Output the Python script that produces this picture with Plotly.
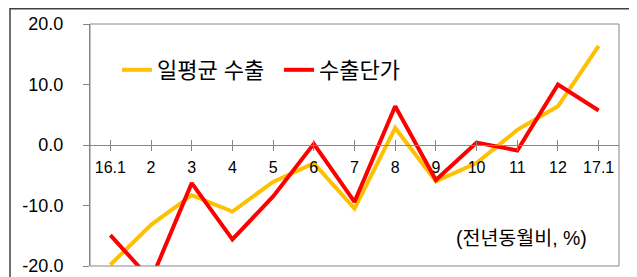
import plotly.graph_objects as go

categories = ["16.1", "2", "3", "4", "5", "6", "7", "8", "9", "10", "11", "12", "17.1"]
daily_avg_exports = [-19.8, -13.2, -8.3, -11.0, -6.1, -3.0, -10.5, 2.8, -6.0, -3.0, 2.5, 6.4, 16.4]
export_unit_price = [-14.9, -22.3, -6.3, -15.6, -8.5, 0.2, -9.4, 6.4, -5.8, 0.4, -0.9, 10.0, 5.7]
series_names = ["일평균 수출", "수출단가"]
y_ticks = [-20, -10, 0, 10, 20]
y_ticklabels = ["-20.0", "-10.0", "0.0", "10.0", "20.0"]
unit_note = "(전년동월비, %)"

FONT = "Liberation Sans, Noto Sans CJK KR, sans-serif"
OFF = 8  # default page body margin
W, H = 637 - OFF, 277 - OFF
# plot area in page pixels: x 90..619, y 24..266
L, R, T, B = 90 - OFF, 18, 24 - OFF, 11
pw, ph = W - L - R, H - T - B

fig = go.Figure()
fig.add_trace(go.Scatter(x=categories, y=daily_avg_exports, mode="lines", name=series_names[0],
                         line=dict(color="#FFC000", width=4)))
fig.add_trace(go.Scatter(x=categories, y=export_unit_price, mode="lines", name=series_names[1],
                         line=dict(color="#FF0000", width=4)))
# invisible trace on overlay axis for inward tick marks
fig.add_trace(go.Scatter(x=categories, y=[None]*len(categories), xaxis="x2", showlegend=False,
                         hoverinfo="skip"))

def px_x(p):
    return (p - 90) / pw

def px_y(p):
    return (266 - p) / ph

fig.update_layout(
    width=W, height=H,
    margin=dict(l=L, r=R, t=T, b=B, autoexpand=False),
    paper_bgcolor="white", plot_bgcolor="white",
    font=dict(family=FONT, color="#000000"),
    xaxis=dict(type="category", range=[-0.5, len(categories) - 0.5], anchor="free", position=0.5,
               showline=True, linecolor="#868686", linewidth=1, ticks="outside", ticklen=5,
               tickcolor="#868686", showgrid=False, zeroline=False, automargin=False,
               tickfont=dict(size=16, family=FONT), ticklabelstandoff=3),
    xaxis2=dict(type="category", range=[-0.5, len(categories) - 0.5], overlaying="x", anchor="free",
                position=0.5, ticks="inside", ticklen=5, tickcolor="#868686", showticklabels=False,
                showline=False, showgrid=False, zeroline=False, automargin=False),
    yaxis=dict(range=[-20, 20], tickvals=y_ticks, ticktext=y_ticklabels, showgrid=False,
               zeroline=False, showline=True, linecolor="#868686", ticks="outside", ticklen=6,
               tickcolor="#868686", tickfont=dict(size=18, family=FONT), ticklabelstandoff=16,
               automargin=False),
    showlegend=True,
    legend=dict(orientation="h", x=px_x(117), y=px_y(70), xanchor="left", yanchor="middle",
                font=dict(size=22, family=FONT), bgcolor="rgba(0,0,0,0)", itemwidth=30,
                entrywidth=117),
    shapes=[
        dict(type="rect", xref="paper", yref="paper", x0=0, x1=1, y0=0, y1=1,
             line=dict(color="#868686", width=1)),
        dict(type="rect", xref="paper", yref="paper", x0=px_x(10), x1=px_x(633),
             y0=-0.2, y1=px_y(8.8), line=dict(color="#404040", width=1.5)),
    ],
    annotations=[
        dict(text=unit_note, xref="paper", yref="paper", x=px_x(589), y=px_y(238),
             xanchor="right", yanchor="middle", showarrow=False, font=dict(size=19.5, family=FONT)),
    ],
)

fig.write_html("out.html")
